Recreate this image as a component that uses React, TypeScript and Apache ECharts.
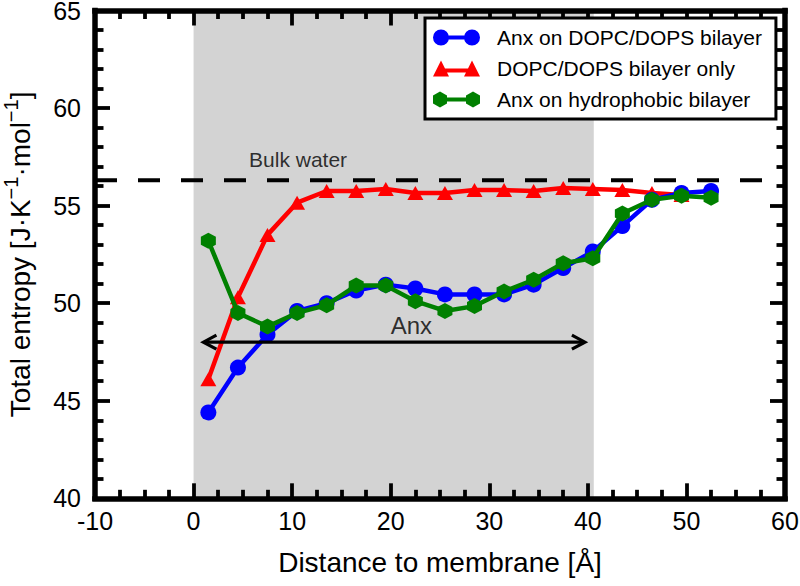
import React, { useEffect, useRef } from "react";
import * as echarts from "echarts";

// ---- data ----
const distances = [1.5, 4.5, 7.5, 10.5, 13.5, 16.5, 19.5, 22.5, 25.5, 28.5, 31.5, 34.5, 37.5, 40.5, 43.5, 46.5, 49.5, 52.5];
const anxOnDopcDops = [44.4, 46.7, 48.4, 49.6, 50.0, 50.65, 50.95, 50.75, 50.45, 50.45, 50.45, 50.95, 51.8, 52.65, 53.95, 55.3, 55.65, 55.75];
const dopcDopsOnly = [46.1, 50.3, 53.5, 55.15, 55.75, 55.75, 55.85, 55.65, 55.65, 55.8, 55.8, 55.75, 55.9, 55.85, 55.8, 55.65, 55.55];
const anxOnHydrophobic = [53.2, 49.5, 48.8, 49.5, 49.9, 50.9, 50.9, 50.1, 49.6, 49.85, 50.6, 51.2, 52.05, 52.3, 54.6, 55.3, 55.5, 55.4];
const seriesNames = ["Anx on DOPC/DOPS bilayer", "DOPC/DOPS bilayer only", "Anx on hydrophobic bilayer"];
const bulkWater = 56.3;
const anxRegion = [0, 40.6];
const anxArrow = [1, 39.7, 48];
const annotations = [
  { text: "Bulk water", x: 10.6, y: 57.35, size: 21 },
  { text: "Anx", x: 22.1, y: 48.85, size: 24 },
];
const xRange = [-10, 60, 10];
const yRange = [40, 65, 5];

const FONT = "Liberation Sans, Arial, sans-serif";

const HEX = "path://M0,-1 L0.866,-0.5 L0.866,0.5 L0,1 L-0.866,0.5 L-0.866,-0.5 Z";
const ICON_CIRCLE =
  "path://M0,8 A8,8 0 1,1 16,8 A8,8 0 1,1 0,8 Z M14,6 L33,6 L33,10 L14,10 Z M31,8 A8,8 0 1,1 47,8 A8,8 0 1,1 31,8 Z";
const ICON_TRI = "path://M0,16 L8,0 L16,16 Z M10,8 L37,8 L37,12 L10,12 Z M31,16 L39,0 L47,16 Z";
const ICON_HEX =
  "path://M7,0 L14,4 L14,12 L7,16 L0,12 L0,4 Z M12,6 L35,6 L35,10 L12,10 Z M40,0 L47,4 L47,12 L40,16 L33,12 L33,4 Z";

function pairs(ys: number[]) {
  return ys.map((y, i) => [distances[i], y]);
}

function frameAxis(pos: string, isX: boolean, withLabels: boolean) {
  const r = isX ? xRange : yRange;
  return {
    type: "value",
    position: pos,
    min: r[0],
    max: r[1],
    interval: r[2],
    z: 10,
    splitLine: { show: false },
    axisLine: { show: true, onZero: false, lineStyle: { color: "#000", width: 5.5, cap: "square" } },
    axisTick: { show: true, inside: true, length: 15, lineStyle: { color: "#000", width: 3.8 } },
    minorTick: { show: true, splitNumber: isX ? 4 : 5, length: 8.5, lineStyle: { color: "#000", width: 3.8 } },
    minorSplitLine: { show: false },
    axisLabel: withLabels
      ? { show: true, fontSize: 25, lineHeight: 20, color: "#000", fontFamily: FONT, margin: isX ? 13 : 14 }
      : { show: false },
  };
}

export default function App() {
  const ref = useRef<HTMLDivElement>(null);
  useEffect(() => {
    if (!ref.current) return;
    const chart = echarts.init(ref.current, undefined, { renderer: "svg" });
    const lineBase = (name: string, ys: number[], color: string, symbol: string, size: any, z: number) => ({
      name,
      type: "line",
      data: pairs(ys),
      symbol,
      symbolSize: size,
      showAllSymbol: true,
      z,
      lineStyle: { color, width: 4.5 },
      itemStyle: { color, borderWidth: 0 },
      emphasis: { disabled: true },
    });
    const option: any = {
      animation: false,
      textStyle: { fontFamily: FONT },
      grid: { left: 95, right: 15, top: 10.5, bottom: 87.7, containLabel: false, outerBoundsMode: "none" },
      legend: {
        left: 425,
        top: 18,
        orient: "vertical",
        itemWidth: 47,
        itemHeight: 16,
        itemGap: 10,
        padding: [9, 14, 9, 8],
        borderColor: "#000",
        borderWidth: 3,
        backgroundColor: "#fff",
        selectedMode: false,
        textStyle: { fontSize: 21, color: "#000", fontFamily: FONT, padding: [0, 0, 0, 12] },
        data: [
          { name: seriesNames[0], icon: ICON_CIRCLE },
          { name: seriesNames[1], icon: ICON_TRI },
          { name: seriesNames[2], icon: ICON_HEX },
        ],
        z: 20,
      },
      xAxis: [
        {
          ...frameAxis("bottom", true, true),
          name: "Distance to membrane [Å]",
          nameLocation: "middle",
          nameGap: 50,
          nameTextStyle: { fontSize: 28, color: "#000", fontFamily: FONT },
        },
        frameAxis("top", true, false),
      ],
      yAxis: [
        {
          ...frameAxis("left", false, true),
          name: "{m|Total entropy [J·K}{sup|−1}{m|·mol}{sup|−1}{m|]}",
          nameLocation: "middle",
          nameGap: 61,
          nameTextStyle: {
            fontSize: 28,
            color: "#000",
            fontFamily: FONT,
            rich: {
              m: { fontSize: 28, fontFamily: FONT, color: "#000", lineHeight: 33, verticalAlign: "bottom" },
              sup: { fontSize: 20, verticalAlign: "top", fontFamily: FONT, color: "#000" },
            },
          },
        },
        frameAxis("right", false, false),
      ],
      series: [
        {
          name: "region",
          type: "line",
          data: [],
          z: 1,
          silent: true,
          markArea: {
            silent: true,
            itemStyle: { color: "#d3d3d3" },
            data: [[{ xAxis: anxRegion[0], yAxis: yRange[0] }, { xAxis: anxRegion[1], yAxis: yRange[1] }]],
          },
        },
        {
          name: "bulk",
          type: "line",
          data: [
            [xRange[0], bulkWater],
            [xRange[1], bulkWater],
          ],
          symbol: "none",
          z: 2,
          silent: true,
          lineStyle: { color: "#000", width: 4, type: [22, 21] },
        },
        lineBase(seriesNames[1], dopcDopsOnly, "#ff0000", "triangle", [16, 14], 3),
        lineBase(seriesNames[0], anxOnDopcDops, "#0000ff", "circle", 16, 4),
        lineBase(seriesNames[2], anxOnHydrophobic, "#008000", HEX, [15, 16], 5),
        {
          name: "arrow",
          type: "custom",
          z: 6,
          silent: true,
          data: [anxArrow],
          renderItem: (params: any, api: any) => {
            const p1 = api.coord([api.value(0), api.value(2)]);
            const p2 = api.coord([api.value(1), api.value(2)]);
            const head = 13;
            const half = 7;
            const st = { stroke: "#000", fill: "none", lineWidth: 3.2 };
            return {
              type: "group",
              children: [
                { type: "line", shape: { x1: p1[0] + 1, y1: p1[1], x2: p2[0] - 1, y2: p2[1] }, style: st },
                {
                  type: "polyline",
                  shape: { points: [[p1[0] + head, p1[1] - half], [p1[0], p1[1]], [p1[0] + head, p1[1] + half]] },
                  style: st,
                },
                {
                  type: "polyline",
                  shape: { points: [[p2[0] - head, p2[1] - half], [p2[0], p2[1]], [p2[0] - head, p2[1] + half]] },
                  style: st,
                },
              ],
            };
          },
        },
        {
          name: "labels",
          type: "scatter",
          z: 7,
          silent: true,
          symbolSize: 0,
          data: annotations.map((a) => ({
            value: [a.x, a.y, a.text],
            label: { fontSize: a.size },
          })),
          label: {
            show: true,
            position: "inside",
            color: "#000",
            fontFamily: FONT,
            formatter: (p: any) => p.value[2],
          },
        },
      ],
    };
    chart.setOption(option);
    return () => chart.dispose();
  }, []);
  return <div ref={ref} style={{ width: 800, height: 586, position: "absolute", left: 0, top: 0 }} />;
}
